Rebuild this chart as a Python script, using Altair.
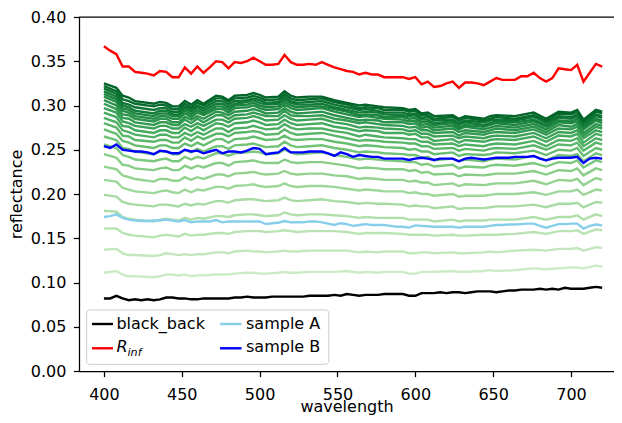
import altair as alt
import pandas as pd

# ---------------- data ----------------
wavelength = list(range(400, 724, 4))

black_back = [
    0.082, 0.082, 0.085, 0.082, 0.080, 0.081, 0.080, 0.081, 0.080, 0.081,
    0.083, 0.083, 0.082, 0.082, 0.081, 0.081, 0.082, 0.082, 0.082, 0.082,
    0.082, 0.083, 0.083, 0.084, 0.083, 0.083, 0.083, 0.084, 0.084, 0.084,
    0.084, 0.084, 0.084, 0.085, 0.085, 0.085, 0.085, 0.086, 0.085, 0.087,
    0.086, 0.085, 0.086, 0.086, 0.086, 0.087, 0.087, 0.087, 0.087, 0.085,
    0.085, 0.088, 0.088, 0.088, 0.089, 0.088, 0.089, 0.089, 0.088, 0.089,
    0.090, 0.090, 0.090, 0.089, 0.090, 0.091, 0.091, 0.092, 0.092, 0.092,
    0.093, 0.092, 0.093, 0.092, 0.094, 0.093, 0.093, 0.093, 0.094, 0.095,
    0.094,
]

r_inf = [
    0.367, 0.362, 0.358, 0.344, 0.344, 0.338, 0.337, 0.336, 0.334, 0.339,
    0.338, 0.332, 0.332, 0.343, 0.336, 0.344, 0.337, 0.343, 0.350, 0.349,
    0.342, 0.349, 0.348, 0.350, 0.354, 0.350, 0.346, 0.346, 0.347, 0.357,
    0.349, 0.346, 0.346, 0.347, 0.346, 0.349, 0.346, 0.343, 0.341, 0.339,
    0.338, 0.335, 0.337, 0.335, 0.335, 0.332, 0.332, 0.332, 0.332, 0.330,
    0.332, 0.324, 0.327, 0.321, 0.322, 0.325, 0.327, 0.320, 0.326, 0.326,
    0.325, 0.323, 0.327, 0.331, 0.329, 0.329, 0.329, 0.333, 0.333, 0.337,
    0.331, 0.327, 0.331, 0.342, 0.341, 0.340, 0.346, 0.327, 0.337, 0.347,
    0.344,
]

sample_a = [
    0.174, 0.175, 0.177, 0.173, 0.171, 0.170, 0.1695, 0.1695, 0.170, 0.170,
    0.171, 0.170, 0.169, 0.1705, 0.168, 0.169, 0.169, 0.169, 0.1705, 0.168,
    0.169, 0.169, 0.169, 0.169, 0.169, 0.169, 0.166, 0.167, 0.1675, 0.1695,
    0.168, 0.168, 0.168, 0.169, 0.169, 0.168, 0.1665, 0.165, 0.167, 0.166,
    0.164, 0.165, 0.166, 0.165, 0.165, 0.165, 0.164, 0.163, 0.163, 0.162,
    0.1645, 0.164, 0.1635, 0.163, 0.163, 0.163, 0.163, 0.162, 0.163, 0.163,
    0.163, 0.163, 0.164, 0.165, 0.165, 0.1655, 0.1655, 0.166, 0.1665, 0.1665,
    0.164, 0.162, 0.164, 0.166, 0.166, 0.1665, 0.1665, 0.161, 0.164, 0.1655,
    0.1645,
]

sample_b = [
    0.254, 0.252, 0.256, 0.250, 0.249, 0.248, 0.248, 0.247, 0.245, 0.249,
    0.248, 0.246, 0.246, 0.250, 0.248, 0.249, 0.246, 0.248, 0.250, 0.246,
    0.248, 0.248, 0.247, 0.249, 0.252, 0.251, 0.245, 0.246, 0.247, 0.252,
    0.247, 0.247, 0.247, 0.248, 0.248, 0.248, 0.246, 0.243, 0.247, 0.245,
    0.242, 0.244, 0.243, 0.242, 0.242, 0.240, 0.240, 0.240, 0.240, 0.2385,
    0.240, 0.241, 0.240, 0.2385, 0.240, 0.240, 0.240, 0.237, 0.240, 0.241,
    0.240, 0.239, 0.240, 0.241, 0.241, 0.241, 0.242, 0.242, 0.242, 0.243,
    0.240, 0.238, 0.240, 0.241, 0.241, 0.241, 0.242, 0.235, 0.240, 0.241,
    0.240,
]

# green family: one row per wavelength, 23 curves (thin -> thick layer)
green_wavelength = [
    400, 408, 412, 416, 420, 432, 436, 440, 444, 448, 452, 456, 460, 464,
    472, 476, 480, 484, 492, 496, 500, 504, 512, 516, 520, 524, 532, 540,
    548, 556, 564, 568, 576, 580, 592, 596, 600, 604, 608, 612, 624, 628,
    632, 644, 648, 652, 664, 676, 684, 692, 700, 704, 708, 716, 720,
]

green_rows = [
    [.111, .137, .161, .181, .199, .216, .231, .245, .256, .265, .273, .280, .286, .292, .297, .302, .306, .310, .313, .316, .319, .322, .325],
    [.113, .138, .161, .180, .197, .214, .228, .241, .252, .261, .268, .275, .281, .287, .292, .296, .300, .304, .307, .310, .313, .316, .320],
    [.109, .133, .156, .174, .191, .207, .221, .233, .244, .252, .260, .266, .272, .277, .282, .286, .290, .294, .297, .300, .303, .307, .311],
    [.107, .131, .154, .172, .189, .205, .219, .232, .242, .251, .258, .265, .270, .276, .280, .285, .289, .292, .295, .298, .301, .305, .309],
    [.107, .131, .153, .171, .188, .203, .217, .229, .239, .248, .255, .261, .267, .272, .277, .281, .285, .288, .291, .294, .298, .302, .305],
    [.106, .130, .151, .169, .186, .201, .214, .227, .237, .245, .252, .259, .264, .269, .274, .278, .282, .285, .288, .291, .295, .299, .302],
    [.107, .131, .153, .171, .188, .203, .217, .229, .239, .248, .255, .261, .267, .272, .277, .281, .285, .288, .291, .294, .297, .301, .304],
    [.109, .133, .154, .172, .188, .204, .217, .230, .240, .248, .255, .261, .267, .272, .277, .281, .285, .288, .291, .294, .297, .300, .303],
    [.109, .132, .153, .171, .187, .202, .215, .227, .237, .245, .252, .258, .264, .269, .274, .278, .281, .285, .288, .290, .293, .296, .299],
    [.108, .131, .152, .170, .186, .201, .215, .227, .237, .245, .252, .258, .264, .269, .274, .278, .281, .285, .288, .290, .293, .296, .299],
    [.109, .132, .155, .173, .189, .205, .219, .232, .242, .250, .257, .264, .269, .275, .279, .284, .287, .291, .294, .297, .299, .302, .305],
    [.107, .131, .153, .171, .187, .202, .216, .229, .239, .247, .254, .260, .266, .271, .276, .280, .284, .287, .290, .293, .296, .298, .301],
    [.108, .132, .154, .173, .189, .205, .219, .232, .242, .251, .258, .265, .270, .276, .280, .285, .288, .292, .295, .298, .300, .303, .306],
    [.108, .132, .154, .172, .188, .204, .217, .230, .240, .248, .255, .262, .267, .272, .277, .281, .285, .289, .291, .294, .297, .300, .302],
    [.109, .134, .156, .175, .192, .208, .222, .235, .246, .254, .262, .268, .274, .280, .284, .289, .293, .296, .299, .302, .305, .308, .311],
    [.109, .134, .156, .175, .192, .208, .222, .235, .246, .254, .262, .268, .274, .279, .284, .289, .292, .296, .299, .302, .305, .308, .310],
    [.109, .133, .155, .174, .190, .206, .220, .232, .243, .251, .258, .265, .270, .276, .281, .285, .289, .292, .295, .298, .301, .304, .306],
    [.110, .135, .157, .176, .193, .209, .223, .236, .246, .255, .262, .269, .274, .280, .285, .289, .293, .297, .300, .302, .305, .308, .311],
    [.111, .136, .158, .177, .194, .210, .224, .237, .247, .256, .263, .270, .275, .281, .286, .290, .294, .298, .301, .304, .306, .309, .312],
    [.111, .135, .158, .177, .194, .211, .225, .238, .248, .257, .265, .271, .277, .283, .288, .292, .296, .300, .303, .306, .308, .311, .314],
    [.110, .135, .158, .176, .193, .209, .223, .236, .247, .255, .263, .270, .275, .281, .286, .290, .294, .297, .300, .303, .306, .309, .312],
    [.110, .134, .157, .175, .192, .208, .222, .235, .245, .253, .261, .267, .273, .278, .283, .288, .291, .295, .298, .301, .303, .306, .309],
    [.111, .135, .158, .176, .193, .209, .223, .235, .246, .254, .262, .268, .274, .279, .284, .288, .292, .296, .299, .302, .304, .307, .310],
    [.112, .136, .159, .179, .196, .212, .226, .239, .250, .259, .266, .273, .279, .284, .289, .294, .297, .301, .304, .307, .310, .313, .316],
    [.111, .135, .158, .177, .193, .209, .223, .236, .247, .255, .262, .269, .275, .280, .285, .289, .293, .297, .300, .303, .305, .308, .311],
    [.111, .135, .157, .176, .192, .208, .222, .235, .245, .253, .261, .267, .273, .278, .283, .288, .291, .295, .298, .301, .303, .306, .309],
    [.112, .136, .158, .177, .193, .209, .223, .236, .246, .254, .262, .268, .274, .279, .284, .288, .292, .296, .299, .301, .304, .307, .310],
    [.112, .136, .158, .177, .194, .209, .223, .236, .247, .255, .262, .269, .274, .280, .285, .289, .293, .297, .299, .302, .305, .308, .310],
    [.112, .136, .158, .176, .192, .208, .221, .234, .244, .252, .259, .266, .271, .276, .281, .285, .289, .293, .296, .298, .301, .304, .306],
    [.113, .136, .157, .175, .191, .206, .220, .232, .242, .250, .257, .263, .269, .274, .279, .283, .286, .290, .293, .295, .298, .301, .303],
    [.111, .134, .155, .173, .189, .204, .217, .229, .239, .247, .254, .260, .265, .271, .275, .280, .283, .287, .289, .292, .295, .297, .300],
    [.112, .135, .156, .174, .190, .205, .218, .230, .240, .248, .255, .261, .267, .272, .276, .281, .284, .288, .290, .293, .296, .298, .301],
    [.111, .134, .156, .173, .189, .204, .217, .229, .239, .247, .254, .260, .265, .271, .275, .279, .283, .286, .289, .292, .294, .297, .299],
    [.112, .135, .156, .173, .189, .203, .216, .228, .238, .246, .253, .259, .264, .269, .274, .278, .281, .285, .287, .290, .292, .295, .298],
    [.112, .135, .155, .173, .188, .203, .216, .228, .237, .245, .252, .258, .263, .269, .273, .277, .281, .284, .287, .289, .292, .295, .297],
    [.110, .133, .154, .171, .186, .201, .214, .226, .236, .244, .250, .257, .262, .267, .271, .275, .279, .282, .285, .288, .290, .293, .295],
    [.110, .133, .154, .171, .187, .202, .215, .227, .236, .244, .251, .257, .262, .268, .272, .276, .280, .283, .286, .289, .291, .294, .296],
    [.112, .134, .154, .171, .186, .200, .213, .224, .233, .241, .248, .254, .259, .264, .268, .272, .275, .278, .281, .284, .286, .289, .291],
    [.112, .134, .154, .171, .186, .200, .213, .225, .234, .242, .248, .254, .259, .264, .268, .272, .276, .279, .282, .284, .287, .289, .292],
    [.112, .133, .153, .169, .184, .198, .210, .222, .231, .238, .245, .251, .256, .260, .265, .269, .272, .275, .278, .280, .283, .285, .288],
    [.113, .134, .154, .171, .186, .200, .212, .223, .233, .240, .247, .252, .257, .262, .266, .270, .274, .277, .280, .282, .284, .287, .289],
    [.112, .133, .153, .169, .183, .197, .209, .220, .229, .237, .243, .249, .254, .258, .263, .266, .270, .273, .275, .278, .280, .283, .285],
    [.112, .133, .153, .170, .184, .198, .211, .222, .231, .239, .245, .251, .256, .261, .265, .269, .272, .276, .278, .281, .283, .286, .288],
    [.113, .134, .154, .170, .184, .198, .210, .221, .230, .237, .244, .249, .254, .259, .263, .267, .270, .273, .276, .278, .281, .283, .285],
    [.114, .135, .154, .171, .185, .199, .211, .222, .232, .239, .245, .251, .256, .261, .265, .269, .272, .275, .278, .280, .283, .285, .288],
    [.113, .134, .154, .171, .186, .200, .212, .223, .233, .240, .247, .252, .257, .262, .266, .270, .274, .277, .280, .282, .284, .287, .289],
    [.114, .136, .155, .171, .186, .200, .212, .223, .232, .239, .246, .251, .256, .261, .265, .269, .272, .275, .278, .281, .283, .285, .288],
    [.116, .137, .157, .174, .188, .202, .215, .226, .235, .243, .249, .255, .260, .265, .269, .273, .276, .279, .282, .284, .287, .289, .292],
    [.115, .136, .155, .171, .185, .199, .211, .222, .231, .238, .244, .250, .254, .259, .263, .267, .270, .273, .276, .278, .281, .283, .285],
    [.116, .138, .158, .174, .189, .203, .216, .227, .236, .244, .250, .256, .261, .266, .270, .274, .278, .281, .283, .286, .288, .291, .293],
    [.117, .138, .158, .174, .189, .203, .215, .226, .235, .243, .249, .255, .260, .265, .269, .273, .276, .280, .282, .285, .287, .290, .292],
    [.117, .139, .159, .176, .190, .205, .217, .229, .238, .245, .252, .258, .263, .268, .272, .276, .279, .282, .285, .288, .290, .293, .295],
    [.116, .136, .155, .171, .185, .199, .210, .221, .230, .237, .243, .249, .254, .258, .263, .266, .269, .273, .275, .277, .280, .282, .284],
    [.119, .140, .160, .177, .191, .205, .218, .229, .238, .246, .252, .258, .263, .268, .272, .276, .279, .283, .285, .288, .290, .293, .295],
    [.118, .139, .159, .175, .190, .204, .216, .227, .236, .244, .250, .256, .261, .266, .270, .274, .277, .280, .283, .286, .288, .291, .293],
]

series_names = ["black_back", "R_inf", "sample A", "sample B"]
series_colors = ["#000000", "#ff0000", "#87ceeb", "#0000ff"]
x_ticks = [400, 450, 500, 550, 600, 650, 700]
y_ticks = [0.0, 0.05, 0.10, 0.15, 0.20, 0.25, 0.30, 0.35, 0.40]

# ---------------- tables ----------------
main_records = []
for name, vals in zip(series_names, [black_back, r_inf, sample_a, sample_b]):
    for w, v in zip(wavelength, vals):
        main_records.append({"wavelength": w, "value": v, "series": name})
main_df = pd.DataFrame(main_records)

green_records = []
for w, row in zip(green_wavelength, green_rows):
    for i, v in enumerate(row, start=1):
        green_records.append({"wavelength": w, "value": v, "curve": i})
green_df = pd.DataFrame(green_records)
n_green = len(green_rows[0])

# ---------------- chart ----------------
# plot area: left spine at x=79, top at y=17 on the page; the right spine of
# the original lies outside the 622 px picture, so the x scale keeps the same
# pixels per nm and the plot is cut at the page edge.
W, H = 535, 354
FONT = "DejaVu Sans"
LW = 2.4

x_enc = alt.X(
    "wavelength:Q",
    scale=alt.Scale(domain=[384, 727.6], nice=False, zero=False),
    axis=alt.Axis(values=x_ticks, title="wavelength", format="d"),
)
y_enc = alt.Y(
    "value:Q",
    scale=alt.Scale(domain=[0, 0.4], nice=False, zero=False),
    axis=alt.Axis(values=y_ticks, format=".2f", title="reflectance"),
)

greens = alt.Chart(green_df).mark_line(strokeWidth=LW).encode(
    x=x_enc,
    y=y_enc,
    color=alt.Color("curve:Q", scale=alt.Scale(scheme="greens", domain=[0, n_green]), legend=None),
    detail="curve:N",
)

layers = [greens]
for name, col in zip(series_names, series_colors):
    layers.append(
        alt.Chart(main_df)
        .transform_filter(alt.datum.series == name)
        .mark_line(strokeWidth=LW, color=col)
        .encode(x=x_enc, y=y_enc)
    )

one = pd.DataFrame({"k": [0]})
# top spine
layers.append(
    alt.Chart(one).mark_rule(color="black", strokeWidth=1.25)
    .encode(x=alt.value(0), x2=alt.value(W), y=alt.value(0))
)

# ---------------- legend (matplotlib style, lower left) ----------------
layers.append(
    alt.Chart(one).mark_rect(fill="white", fillOpacity=0.8, stroke="#cccccc", strokeWidth=1, cornerRadius=3)
    .encode(x=alt.value(7.6), x2=alt.value(249.8), y=alt.value(293), y2=alt.value(347.3))
)
handle_pos = [(13, 34, 307), (13, 34, 331.3), (141, 162.5, 307), (141, 162.5, 331.3)]
for (x1, x2, yy), col in zip(handle_pos, series_colors):
    layers.append(
        alt.Chart(one).mark_rule(color=col, strokeWidth=LW)
        .encode(x=alt.value(x1), x2=alt.value(x2), y=alt.value(yy))
    )
text_pos = {"black_back": (37.4, 311.5), "sample A": (167, 311.5), "sample B": (167, 335.3)}
for name, (tx, ty) in text_pos.items():
    layers.append(
        alt.Chart(one).mark_text(text=name, font=FONT, fontSize=16, align="left", baseline="alphabetic", color="black")
        .encode(x=alt.value(tx), y=alt.value(ty))
    )
layers.append(
    alt.Chart(one).mark_text(text="R", font=FONT, fontSize=16, fontStyle="italic", align="left", baseline="alphabetic", color="black")
    .encode(x=alt.value(37.4), y=alt.value(335.3))
)
layers.append(
    alt.Chart(one).mark_text(text="inf", font=FONT, fontSize=11.2, fontStyle="italic", align="left", baseline="alphabetic", color="black")
    .encode(x=alt.value(48.5), y=alt.value(338.8))
)

chart = (
    alt.layer(*layers)
    .properties(
        width=W,
        height=H,
        autosize=alt.AutoSizeParams(type="none"),
        padding={"left": 71, "top": 9, "right": 0, "bottom": 44},
        background="white",
    )
    .configure_view(stroke=None, strokeWidth=0)
    .configure_axis(
        grid=False,
        domainColor="black",
        domainWidth=1.25,
        tickColor="black",
        tickWidth=1.25,
        tickSize=5.6,
        labelFont=FONT,
        labelFontSize=16,
        labelColor="black",
        titleFont=FONT,
        titleFontSize=16,
        titleFontWeight="normal",
        titleColor="black",
    )
    .configure_axisX(labelPadding=9.5, titlePadding=-3.5)
    .configure_axisY(labelPadding=7.5, titlePadding=5.5)
)

chart.save("out.html", embed_options={"renderer": "svg", "actions": False})
